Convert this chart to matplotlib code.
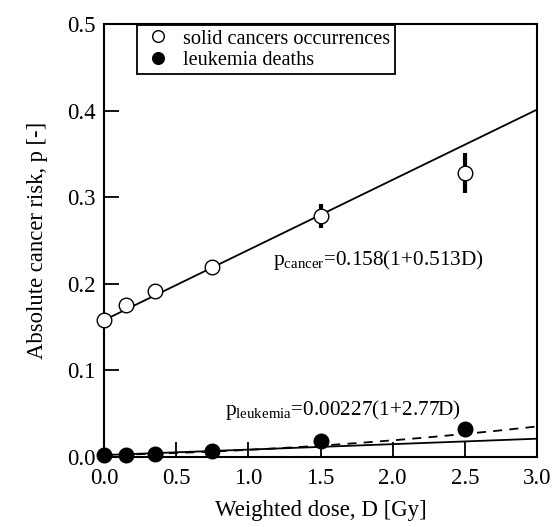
import numpy as np
import matplotlib
matplotlib.use("Agg")
import matplotlib.pyplot as plt

plt.rcParams["font.family"] = ["Liberation Serif", "DejaVu Serif"]
plt.rcParams["mathtext.fontset"] = "custom"
plt.rcParams["mathtext.rm"] = "Liberation Serif"
plt.rcParams["mathtext.it"] = "Liberation Serif:italic"

# data
dose = [0.0, 0.15, 0.35, 0.75, 1.5, 2.5]
cancer = [0.158, 0.175, 0.192, 0.219, 0.278, 0.328]
cancer_err = [0.0, 0.0, 0.0, 0.0, 0.014, 0.023]
leukemia = [0.002, 0.002, 0.004, 0.007, 0.019, 0.032]

# fitted models shown on the chart
cancer_fit = (0.158, 0.513)
leuk_fit = (0.00227, 2.77)
leuk_quad = (0.00227, 0.0035, 0.0025)

d = np.linspace(0, 3.0, 200)

fig = plt.figure(figsize=(5.55, 5.27), dpi=100)
ax = fig.add_axes([0.1874, 0.1328, 0.7802, 0.8217])

ax.plot(d, cancer_fit[0] * (1 + cancer_fit[1] * d), color="black", lw=1.3)
ax.plot(d, leuk_fit[0] * (1 + leuk_fit[1] * d), color="black", lw=1.3)
ax.plot(d, leuk_quad[0] + leuk_quad[1] * d + leuk_quad[2] * d ** 2,
        color="black", lw=1.3, ls=(0, (5, 4)))

ax.errorbar(dose, cancer, yerr=cancer_err, fmt="none", ecolor="black",
            elinewidth=3, capsize=0, zorder=3)
ax.plot(dose, cancer, "o", ms=10.5, mfc="white", mec="black", mew=1.0,
        label="solid cancers occurrences", zorder=4, clip_on=False)
ax.plot(dose, leukemia, "o", ms=10.5, mfc="black", mec="black",
        label="leukemia deaths", zorder=4, clip_on=False)

ax.text(1.17, 0.227, r"p$_{\rm cancer}$=0.158(1+0.513D)", fontsize=15.3,
        va="center", ha="left")
ax.text(0.84, 0.054, r"p$_{\rm leukemia}$=0.00227(1+2.77D)", fontsize=15.3,
        va="center", ha="left")

ax.set_xlim(0, 3.0)
ax.set_ylim(0, 0.5)
ax.set_xticks(np.arange(0, 3.01, 0.5))
ax.set_yticks(np.arange(0, 0.51, 0.1))
ax.xaxis.set_major_formatter(matplotlib.ticker.FormatStrFormatter("%.1f"))
ax.yaxis.set_major_formatter(matplotlib.ticker.FormatStrFormatter("%.1f"))
ax.tick_params(direction="in", length=11, width=1.3, labelsize=16.5,
               top=False, right=False)
ax.tick_params(axis="x", pad=8)
ax.tick_params(axis="y", pad=6)
for s in ax.spines.values():
    s.set_linewidth(1.5)

ax.set_xlabel("Weighted dose, D [Gy]", fontsize=16.5, labelpad=8)
ax.set_ylabel("Absolute cancer risk, p [-]", fontsize=16.3, labelpad=14)

leg = ax.legend(loc="upper left", bbox_to_anchor=(0.076, 0.998),
                borderaxespad=0, fancybox=False, framealpha=1,
                edgecolor="black", fontsize=14.6, handletextpad=0.45,
                borderpad=0.22, labelspacing=0.1, handlelength=1.6,
                markerscale=0.8)
leg.get_frame().set_linewidth(1.3)

fig.savefig("out.png", dpi=100)
